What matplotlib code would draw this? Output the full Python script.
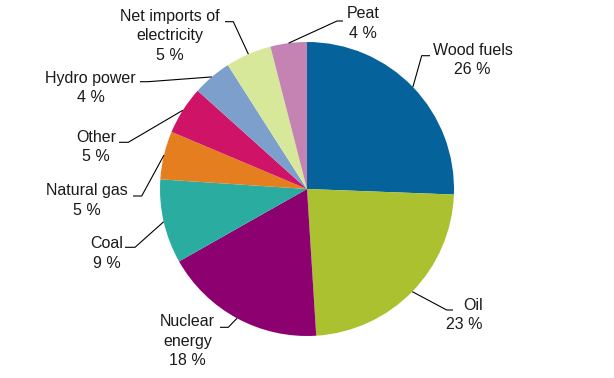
import numpy as np
import matplotlib
matplotlib.use('Agg')
import matplotlib.pyplot as plt

# energy sources, clockwise from the top
labels = ['Wood fuels', 'Oil', 'Nuclear\nenergy', 'Coal', 'Natural gas', 'Other',
          'Hydro power', 'Net imports of\nelectricity', 'Peat']
shares = [25.6, 23.4, 17.8, 9.25, 5.3, 5.3, 4.3, 5.05, 4.0]
shown = [26, 23, 18, 9, 5, 5, 4, 5, 4]
colours = ['#05629a', '#abc12f', '#8c0070', '#2aaca1', '#e47e1f', '#cf1468',
           '#7d9fcc', '#d8e89a', '#c483b3']

W, H = 614, 378
cx, cy, R = 307, 189, 147

# label layout in pixels: text x, first baseline y, elbow x, elbow y, end x, align
layout = [
    (472.5, 55.5, 421.7, 55.7, 430, 'center'),
    (483, 310, 446.7, 310, 453, 'right'),
    (187.5, 327, 228.3, 327.3, 220, 'center'),
    (107, 249, 135, 247.3, 125, 'center'),
    (86.7, 196, 141.7, 196, 133, 'center'),
    (96, 142.5, 128.3, 142.3, 119, 'center'),
    (90.5, 83, 148, 81.7, 140, 'center'),
    (170, 21.5, 233.3, 21.7, 225, 'center'),
    (363, 19, 337, 21, 343, 'center'),
]

plt.rcParams['font.family'] = ['Liberation Sans', 'DejaVu Sans']

fig = plt.figure(figsize=(W / 100, H / 100), dpi=100)
ax = fig.add_axes([0, 0, 1, 1])
wedges, _ = ax.pie(shares, colors=colours, startangle=90, counterclock=False,
                   center=(cx, H - cy), radius=R, wedgeprops=dict(linewidth=0))
ax.set_xlim(0, W)
ax.set_ylim(0, H)
ax.set_aspect('equal')
ax.axis('off')

for w, lab, val, (tx, ty, ex, ey, endx, al) in zip(wedges, labels, shown, layout):
    mid = np.deg2rad((w.theta1 + w.theta2) / 2)
    ax0 = cx + R * np.cos(mid)
    ay0 = (H - cy) + R * np.sin(mid)
    ax.plot([ax0, ex, endx], [ay0, H - ey, H - ey], color='black', lw=0.8,
            solid_capstyle='butt')
    ax.text(tx, H - ty + 12.5, '{}\n{} %'.format(lab, val), ha=al, va='top',
            multialignment=al, fontsize=11.5, color='#1a1a1a', linespacing=1.36)

plt.savefig('out.png', dpi=100)
